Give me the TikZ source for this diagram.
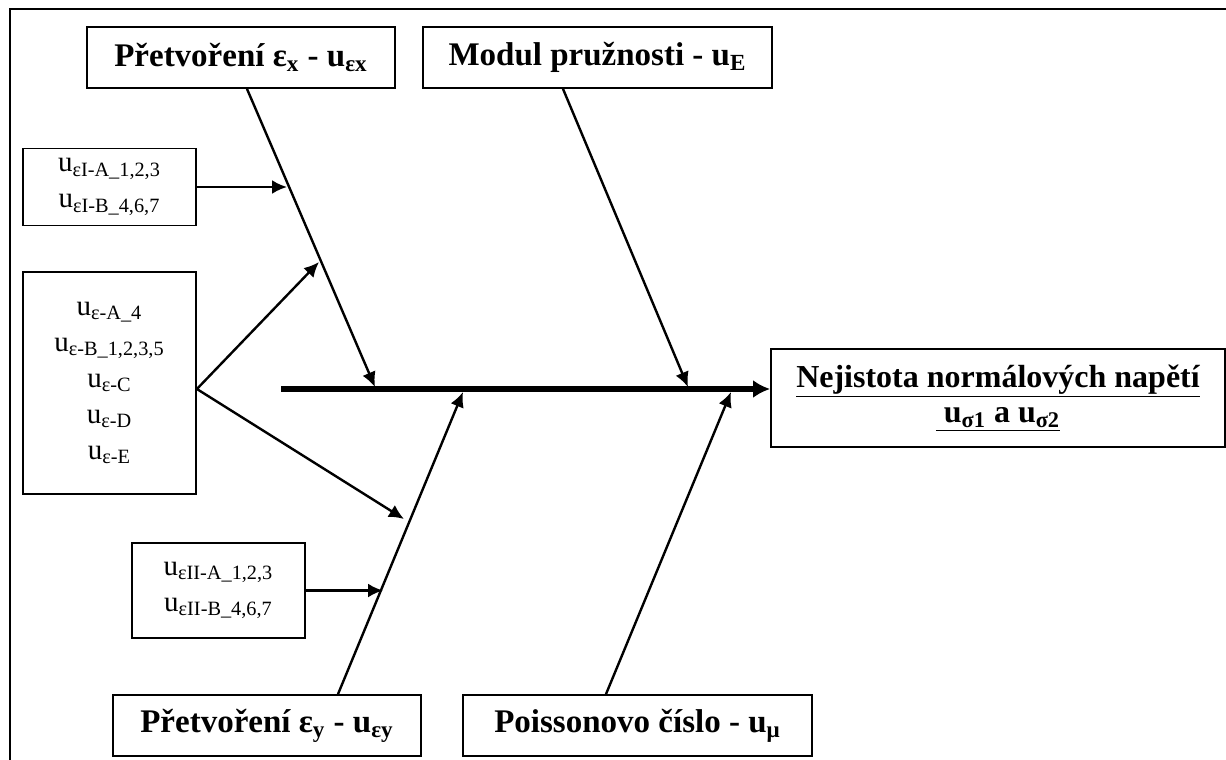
\documentclass[tikz,border=0pt]{standalone}
\usepackage{fontspec}
\setmainfont{Liberation Serif}
\usetikzlibrary{arrows.meta}

\begin{document}
\begin{tikzpicture}[x=0.5pt,y=-0.5pt,>={Latex[length=7.5pt,width=7pt]},
 factor/.style={draw,line width=0.9pt,inner sep=0pt,minimum height=30.5pt,font=\fontsize{16.5}{19}\selectfont\bfseries},
 source/.style={draw,line width=0.9pt,inner sep=0pt,minimum width=86.5pt,align=center,font=\fontsize{14.5}{18}\selectfont},
 result/.style={draw,line width=0.9pt,inner sep=0pt,minimum width=227pt,minimum height=49pt,align=center,font=\fontsize{16}{17.5}\selectfont\bfseries},
 bone/.style={->,line width=1.2pt},
 spine/.style={-{Latex[length=8.5pt,width=9pt]},line width=2.75pt}]
\useasboundingbox (0,0) rectangle (1226,760);
\draw[line width=1pt] (10,760) -- (10,9) -- (1226,9);
\node[factor,minimum width=154pt] (ex) at (241,57.5) {Přetvoření ε\textsubscript{x} - u\textsubscript{εx}};
\node[factor,minimum width=174.5pt] (modE) at (597.5,57.5) {Modul pružnosti - u\textsubscript{E}};
\node[factor,minimum width=154pt] (ey) at (267,725.5) {Přetvoření ε\textsubscript{y} - u\textsubscript{εy}};
\node[factor,minimum width=174.5pt] (mu) at (637.5,725.5) {Poissonovo číslo - u\textsubscript{μ}};
\node[result] (res) at (998,398) {\underline{Nejistota normálových napětí}\\\underline{\ u\textsubscript{σ1} a u\textsubscript{σ2}}};
\node[source,minimum height=38.5pt] (srcI) at (109.5,187) {u\textsubscript{εI-A\_1,2,3}\\u\textsubscript{εI-B\_4,6,7}};
\node[source,minimum height=111pt] (srcM) at (109.5,383) {u\textsubscript{ε-A\_4}\\u\textsubscript{ε-B\_1,2,3,5}\\u\textsubscript{ε-C}\\u\textsubscript{ε-D}\\u\textsubscript{ε-E}};
\node[source,minimum height=47.5pt] (srcII) at (218.5,590.5) {u\textsubscript{εII-A\_1,2,3}\\u\textsubscript{εII-B\_4,6,7}};
\coordinate (tail) at (281,389);
\coordinate (tipX) at (375,387);
\coordinate (tipE) at (688,387);
\coordinate (tipY) at (463,392);
\coordinate (tipMu) at (731,392);
\coordinate (hitI) at (287,183);
\coordinate (hitMup) at (319,262);
\coordinate (hitMdn) at (404,519);
\coordinate (hitII) at (383,590);
\draw[spine] (tail) -- (tail -| res.west);
\draw[bone] ([xshift=3pt]ex.south) -- (tipX);
\draw[bone] ([xshift=-17.25pt]modE.south) -- (tipE);
\draw[bone] ([xshift=35.5pt]ey.north) -- (tipY);
\draw[bone] ([xshift=-15.75pt]mu.north) -- (tipMu);
\draw[bone] (srcI.east) -- (srcI.east -| hitI);
\draw[bone] ([yshift=-3pt]srcM.east) -- (hitMup);
\draw[bone] ([yshift=-3pt]srcM.east) -- (hitMdn);
\draw[bone] (srcII.east) -- (srcII.east -| hitII);
\end{tikzpicture}
\end{document}
